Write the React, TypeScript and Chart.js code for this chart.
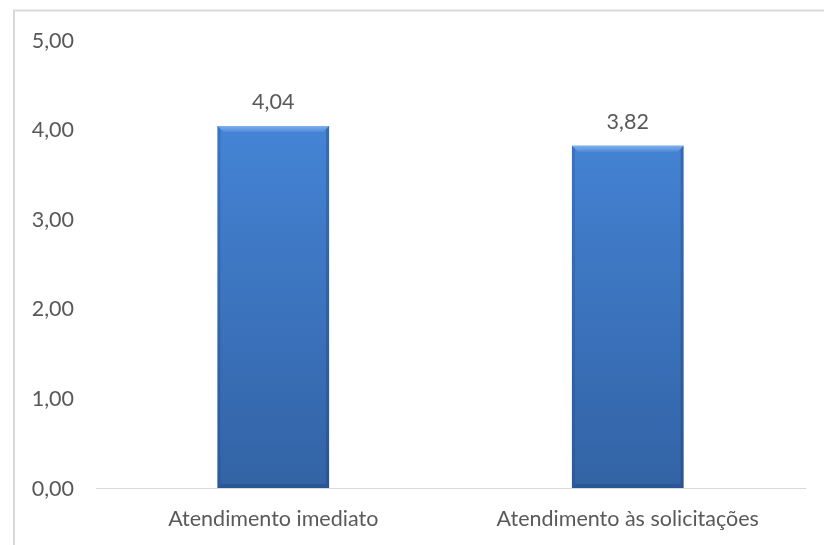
import React, { useEffect, useRef } from "react";
import { Chart, registerables } from "chart.js";

Chart.register(...registerables);

const categories = ["Atendimento imediato", "Atendimento às solicitações"];
const values = [4.04, 3.82];
const yTicks = [0, 1, 2, 3, 4, 5];

const fmt = (v: number) => v.toFixed(2).replace(".", ",");
const FONT = "Lato";
const FONT_SIZE = 21.5;
const TEXT = "#595959";

const framePlugin = {
  id: "frame",
  beforeDraw(chart: any) {
    const ctx = chart.ctx;
    ctx.save();
    ctx.fillStyle = "#ffffff";
    ctx.fillRect(0, 0, chart.width, chart.height);
    ctx.strokeStyle = "#d9d9d9";
    ctx.lineWidth = 2;
    ctx.beginPath();
    ctx.moveTo(14, chart.height);
    ctx.lineTo(14, 10.5);
    ctx.lineTo(chart.width, 10.5);
    ctx.stroke();
    ctx.restore();
  },
};

const labelsPlugin = {
  id: "axisLabels",
  afterDraw(chart: any) {
    const ctx = chart.ctx;
    const xs = chart.scales.x;
    const ys = chart.scales.y;
    ctx.save();
    ctx.fillStyle = TEXT;
    ctx.font = `${FONT_SIZE}px ${FONT}`;
    ctx.textBaseline = "alphabetic";
    // y tick labels
    ctx.textAlign = "right";
    ys.ticks.forEach((t: any) => {
      const py = ys.getPixelForValue(t.value);
      ctx.fillText(fmt(t.value), chart.chartArea.left - 22, py + 7.5);
    });
    // x category labels
    ctx.textAlign = "center";
    categories.forEach((c, i) => {
      const px = xs.getPixelForValue(i);
      ctx.fillText(c, px, chart.chartArea.bottom + 38);
    });
    ctx.restore();
  },
};

const bevelPlugin = {
  id: "bevel",
  afterDatasetsDraw(chart: any) {
    const ctx = chart.ctx;
    const meta = chart.getDatasetMeta(0);
    ctx.save();
    meta.data.forEach((bar: any, i: number) => {
      const { x, y, base, width } = bar.getProps(["x", "y", "base", "width"], true);
      const l = x - width / 2;
      const r = x + width / 2;
      const b = 6;
      const tg = ctx.createLinearGradient(0, y, 0, y + b);
      tg.addColorStop(0, "#7fb0ee");
      tg.addColorStop(1, "#4f8cdb");
      ctx.fillStyle = tg;
      ctx.beginPath();
      ctx.moveTo(l, y);
      ctx.lineTo(r, y);
      ctx.lineTo(r - b, y + b);
      ctx.lineTo(l + b, y + b);
      ctx.closePath();
      ctx.fill();
      ctx.fillStyle = "rgba(20,50,100,0.18)";
      ctx.beginPath();
      ctx.moveTo(l, y);
      ctx.lineTo(l + 3, y + 3);
      ctx.lineTo(l + 3, base - 3);
      ctx.lineTo(l, base);
      ctx.closePath();
      ctx.fill();
      ctx.fillStyle = "rgba(20,50,100,0.28)";
      ctx.beginPath();
      ctx.moveTo(r, y);
      ctx.lineTo(r - 3, y + 3);
      ctx.lineTo(r - 3, base - 3);
      ctx.lineTo(r, base);
      ctx.closePath();
      ctx.fill();
      ctx.fillStyle = "rgba(20,50,100,0.25)";
      ctx.beginPath();
      ctx.moveTo(l, base);
      ctx.lineTo(r, base);
      ctx.lineTo(r - 4, base - 4);
      ctx.lineTo(l + 4, base - 4);
      ctx.closePath();
      ctx.fill();
      ctx.fillStyle = TEXT;
      ctx.font = `${FONT_SIZE}px ${FONT}`;
      ctx.textAlign = "center";
      ctx.textBaseline = "alphabetic";
      ctx.fillText(fmt(values[i]), x, y - 17);
    });
    ctx.restore();
  },
};

export default function App() {
  const ref = useRef<HTMLCanvasElement | null>(null);

  useEffect(() => {
    if (!ref.current) return;
    const chart = new Chart(ref.current, {
      type: "bar",
      data: {
        labels: categories,
        datasets: [
          {
            data: values,
            backgroundColor: (c: any) => {
              const area = c.chart.chartArea;
              if (!area) return "#3f7acb";
              const g = c.chart.ctx.createLinearGradient(0, area.top + 80, 0, area.bottom);
              g.addColorStop(0, "#4584d6");
              g.addColorStop(1, "#3263a5");
              return g;
            },
            borderWidth: 0,
            barPercentage: 0.9,
            categoryPercentage: 0.35,
          },
        ],
      },
      options: {
        animation: false,
        responsive: false,
        devicePixelRatio: 1,
        layout: { padding: { left: 0, right: 19, top: 40, bottom: 0 } },
        plugins: {
          legend: { display: false },
          tooltip: { enabled: false },
        },
        scales: {
          x: {
            grid: { display: false, drawTicks: false },
            border: { display: true, color: "#d9d9d9", width: 1 },
            ticks: { display: false },
            afterFit: (axis: any) => {
              axis.height = 57;
            },
          },
          y: {
            min: 0,
            max: 5,
            afterBuildTicks: (axis: any) => {
              axis.ticks = yTicks.map((v) => ({ value: v }));
            },
            grid: { display: false, drawTicks: false },
            border: { display: false },
            ticks: { display: false },
            afterFit: (axis: any) => {
              axis.width = 96;
            },
          },
        },
      },
      plugins: [framePlugin, bevelPlugin, labelsPlugin],
    });
    return () => chart.destroy();
  }, []);

  return (
    <div style={{ position: "fixed", left: 0, top: 0, width: 824, height: 545 }}>
      <canvas ref={ref} width={824} height={545} style={{ width: 824, height: 545 }} />
    </div>
  );
}
